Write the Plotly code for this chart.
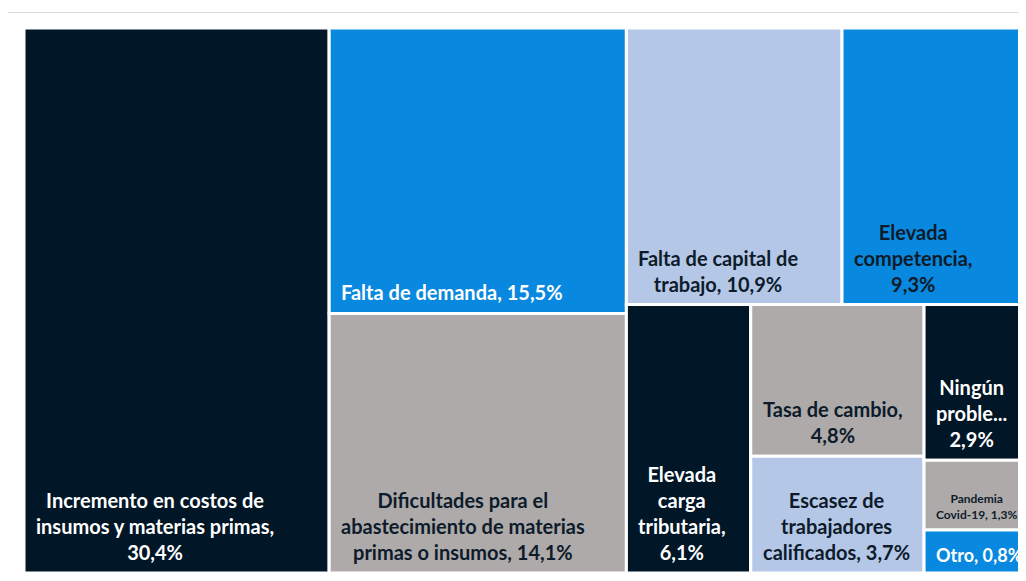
import plotly.graph_objects as go

# ---- data -------------------------------------------------------------
categories = [
    "Incremento en costos de insumos y materias primas",
    "Falta de demanda",
    "Dificultades para el abastecimiento de materias primas o insumos",
    "Falta de capital de trabajo",
    "Elevada competencia",
    "Elevada carga tributaria",
    "Tasa de cambio",
    "Escasez de trabajadores calificados",
    "Ningún problema",
    "Pandemia Covid-19",
    "Otro",
]
values = [30.4, 15.5, 14.1, 10.9, 9.3, 6.1, 4.8, 3.7, 2.9, 1.3, 0.8]
display_labels = [
    "Incremento en costos de<br>insumos y materias primas,<br>30,4%",
    "Falta de demanda, 15,5%",
    "Dificultades para el<br>abastecimiento de materias<br>primas o insumos, 14,1%",
    "Falta de capital de<br>trabajo, 10,9%",
    "Elevada<br>competencia,<br>9,3%",
    "Elevada<br>carga<br>tributaria,<br>6,1%",
    "Tasa de cambio,<br>4,8%",
    "Escasez de<br>trabajadores<br>calificados, 3,7%",
    "Ningún<br>proble...<br>2,9%",
    "Pandemia<br>Covid-19, 1,3%",
    "Otro, 0,8%",
]
# grouping that reproduces the tile arrangement of the original chart
leaf_group = ["", "g1", "g1", "g2a", "g2a", "g2b", "g2b1", "g2b1", "g2b2", "g2b2", "g2b2"]
group_parent = {"g1": "", "g2": "", "g2a": "g2", "g2b": "g2", "g2b1": "g2b", "g2b2": "g2b"}

# ---- styles -----------------------------------------------------------
NAVY = "#011627"
BLUE = "#0888DE"
LIGHT = "#B4C7E7"
GRAY = "#AEAAAA"
DARKTXT = "#0D1B2A"
FONT = "Lato"
leaf_colors = [NAVY, BLUE, GRAY, LIGHT, BLUE, NAVY, GRAY, LIGHT, NAVY, GRAY, BLUE]
leaf_text_colors = ["white", "white", DARKTXT, DARKTXT, DARKTXT, "white",
                    DARKTXT, DARKTXT, "white", DARKTXT, "white"]
leaf_sizes = [20, 20, 20, 20, 20, 20, 20, 20, 20, 12, 18]
label_pad_left = 10                        # px from tile edge to label block
label_pad_bottom = [7, 7, 7, 7, 7, 7, 7, 7, 7, 6, 5]   # px from tile bottom

# ---- hierarchy (groups emitted just before their first leaf) ----------
ids, parents, labels, vals, colors = [], [], [], [], []
children = {"": []}
emitted = set()


def emit_group(g):
    if g == "" or g in emitted:
        return
    emit_group(group_parent[g])
    emitted.add(g)
    ids.append(g)
    parents.append(group_parent[g])
    labels.append(g)
    vals.append(0)
    colors.append("white")
    children.setdefault(g, [])
    children[group_parent[g]].append(g)


for i, cat in enumerate(categories):
    emit_group(leaf_group[i])
    ids.append(f"leaf{i}")
    parents.append(leaf_group[i])
    labels.append(cat)
    vals.append(values[i])
    colors.append(leaf_colors[i])
    children[leaf_group[i]].append(i)


def node_value(n):
    return values[n] if isinstance(n, int) else sum(node_value(c) for c in children[n])


# slice-dice partition (same rule the treemap uses) to locate the labels
rects = {}


def partition(n, x0, y0, x1, y1, depth):
    if isinstance(n, int):
        rects[n] = (x0, y0, x1, y1)
        return
    total = node_value(n)
    pos = x0 if depth % 2 == 0 else y0
    for c in children[n]:
        f = node_value(c) / total
        if depth % 2 == 0:
            w = (x1 - x0) * f
            partition(c, pos, y0, pos + w, y1, depth + 1)
            pos += w
        else:
            h = (y1 - y0) * f
            partition(c, x0, pos, x1, pos + h, depth + 1)
            pos += h


partition("", 0.0, 0.0, 1.0, 1.0, 0)   # y measured from the top

# ---- geometry (page body has an 8px margin) ---------------------------
OFF = 8
pw, ph = 1002, 545
ML, MR, MT, MB = 24 - OFF, 0, 28 - OFF, 0
W, H = ML + pw + MR, MT + ph + MB

fig = go.Figure(go.Treemap(
    ids=ids, parents=parents, labels=labels, values=vals,
    branchvalues="remainder", sort=False,
    tiling=dict(packing="slice-dice", pad=0),
    pathbar=dict(visible=False),
    textinfo="none",
    marker=dict(colors=colors, line=dict(color="white", width=3),
                pad=dict(t=0, l=0, r=0, b=0), depthfade=False),
    hoverinfo="label+value",
))

annotations = []
for i in range(len(categories)):
    x0, y0, x1, y1 = rects[i]
    annotations.append(dict(
        xref="paper", yref="paper",
        x=x0 + label_pad_left / pw, y=(1 - y1) + label_pad_bottom[i] / ph,
        xanchor="left", yanchor="bottom", align="center",
        text=display_labels[i], showarrow=False,
        font=dict(family=FONT, size=leaf_sizes[i], color=leaf_text_colors[i], weight="bold"),
    ))


def px_x(x):
    return (x - OFF - ML) / pw


def px_y(y):
    return (H - MB - (y - OFF)) / ph


shapes = [
    # chart frame
    dict(type="rect", xref="paper", yref="paper", x0=px_x(7.5), x1=px_x(1100),
         y0=px_y(700), y1=px_y(12.5), line=dict(color="#D9D9D9", width=1),
         fillcolor="rgba(0,0,0,0)", layer="below"),
]

fig.update_layout(
    width=W, height=H,
    margin=dict(l=ML, r=MR, t=MT, b=MB),
    paper_bgcolor="white",
    shapes=shapes,
    annotations=annotations,
    showlegend=False,
)

fig.write_html("out.html")
